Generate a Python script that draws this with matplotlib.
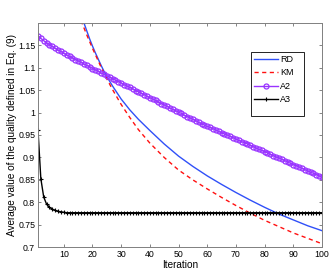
import matplotlib
matplotlib.use("Agg")
import matplotlib.pyplot as plt
from matplotlib.patches import Rectangle

plt.rcParams["font.family"] = ["Liberation Sans", "DejaVu Sans"]

# iterations 1..100
iters = list(range(1, 101))

a2 = [1.171, 1.165, 1.160, 1.155, 1.151, 1.147, 1.143, 1.139, 1.136, 1.132,
      1.128, 1.125, 1.122, 1.118, 1.115, 1.112, 1.108, 1.105, 1.102, 1.098,
      1.095, 1.092, 1.088, 1.085, 1.082, 1.079, 1.075, 1.072, 1.069, 1.066,
      1.062, 1.059, 1.056, 1.053, 1.049, 1.046, 1.043, 1.040, 1.036, 1.033,
      1.030, 1.027, 1.023, 1.020, 1.017, 1.014, 1.010, 1.007, 1.004, 1.001,
      0.998, 0.994, 0.991, 0.988, 0.985, 0.982, 0.978, 0.975, 0.972, 0.969,
      0.967, 0.964, 0.961, 0.958, 0.955, 0.952, 0.950, 0.947, 0.944, 0.941,
      0.938, 0.935, 0.933, 0.930, 0.927, 0.924, 0.921, 0.918, 0.916, 0.913,
      0.910, 0.907, 0.904, 0.901, 0.899, 0.896, 0.893, 0.890, 0.887, 0.884,
      0.882, 0.879, 0.876, 0.873, 0.870, 0.867, 0.865, 0.862, 0.859, 0.856]

a3 = [0.962, 0.853, 0.812, 0.796, 0.789, 0.785, 0.782, 0.780, 0.779, 0.778,
      0.777, 0.777, 0.777, 0.777, 0.777, 0.777, 0.777, 0.777, 0.777, 0.777,
      0.777, 0.777, 0.777, 0.777, 0.777, 0.777, 0.777, 0.777, 0.777, 0.777,
      0.777, 0.777, 0.777, 0.777, 0.777, 0.777, 0.777, 0.777, 0.777, 0.777,
      0.777, 0.777, 0.777, 0.777, 0.777, 0.777, 0.777, 0.777, 0.777, 0.777,
      0.777, 0.777, 0.777, 0.777, 0.777, 0.777, 0.777, 0.777, 0.777, 0.777,
      0.777, 0.777, 0.777, 0.777, 0.777, 0.777, 0.777, 0.777, 0.777, 0.777,
      0.777, 0.777, 0.777, 0.777, 0.777, 0.777, 0.777, 0.777, 0.777, 0.777,
      0.777, 0.777, 0.777, 0.777, 0.777, 0.777, 0.777, 0.777, 0.777, 0.777,
      0.777, 0.777, 0.777, 0.777, 0.777, 0.777, 0.777, 0.777, 0.777, 0.777]

# RD and KM read at sampled iterations (both leave the top of the plot early)
rd_x = [16, 17, 18, 19, 20, 21, 22, 23, 24, 25, 27, 30, 33, 36, 40, 45, 50,
        55, 60, 65, 70, 75, 80, 85, 90, 95, 100]
rd = [1.219, 1.200, 1.182, 1.164, 1.148, 1.133, 1.119, 1.105, 1.092, 1.080,
      1.059, 1.030, 1.006, 0.985, 0.960, 0.930, 0.903, 0.880, 0.859, 0.840,
      0.822, 0.805, 0.789, 0.774, 0.761, 0.748, 0.737]

km_x = [16, 17, 18, 19, 20, 21, 22, 23, 24, 25, 27, 30, 33, 36, 40, 45, 50,
        55, 60, 65, 70, 75, 80, 85, 90, 95, 100]
km = [1.205, 1.189, 1.173, 1.158, 1.143, 1.129, 1.115, 1.101, 1.088, 1.075,
      1.051, 1.018, 0.989, 0.962, 0.932, 0.900, 0.872, 0.850, 0.830, 0.811,
      0.793, 0.776, 0.760, 0.746, 0.732, 0.720, 0.708]

xticks = [10, 20, 30, 40, 50, 60, 70, 80, 90, 100]
yticks = [0.7, 0.75, 0.8, 0.85, 0.9, 0.95, 1.0, 1.05, 1.1, 1.15]
ylabels = ["0.7", "0.75", "0.8", "0.85", "0.9", "0.95", "1", "1.05", "1.1", "1.15"]

fig = plt.figure(figsize=(3.33, 2.75), dpi=100)
ax = fig.add_axes([0.114, 0.1007, 0.853, 0.8168])

ax.plot(rd_x, rd, color="#3050f8", lw=1.0, label="RD")
ax.plot(km_x, km, color="#ff1010", lw=1.0, ls=(0, (3, 2.5)), label="KM")
ax.plot(iters, a2, color="#9933ff", lw=1.0, marker="o", ms=3.6, mfc="none",
        mew=0.9, label="A2")
ax.plot(iters, a3, color="black", lw=1.0, marker="+", ms=3.5, mew=0.8, label="A3")

ax.set_xlim(1, 100)
ax.set_ylim(0.7, 1.2)
ax.set_xticks(xticks)
ax.set_yticks(yticks)
ax.set_yticklabels(ylabels)
ax.tick_params(direction="in", length=2.5, width=0.6, labelsize=6.3,
               top=True, right=True, colors="#707070", labelcolor="black", pad=2)
for s in ax.spines.values():
    s.set_color("#808080")
    s.set_linewidth(0.7)

ax.set_xlabel("Iteration", fontsize=7.2, labelpad=1)
ax.set_ylabel("Average value of the quality defined in Eq. (9)", fontsize=7.2, labelpad=1)

# MATLAB style legend box, a bit taller than its entries
box = Rectangle((251 / 333, 1 - 116 / 275), 53.3 / 333, 64.3 / 275,
                transform=fig.transFigure, facecolor="white",
                edgecolor="black", lw=0.6, zorder=4, clip_on=False)
ax.add_patch(box)

leg = ax.legend(loc="upper left", bbox_to_anchor=(251 / 333, 1 - 51.7 / 275),
                bbox_transform=fig.transFigure, borderaxespad=0, fontsize=6.5,
                handlelength=2.6, labelspacing=0.5, handletextpad=0.3,
                borderpad=0.35, frameon=False)
leg.set_zorder(5)

fig.savefig("out.png", dpi=100)
